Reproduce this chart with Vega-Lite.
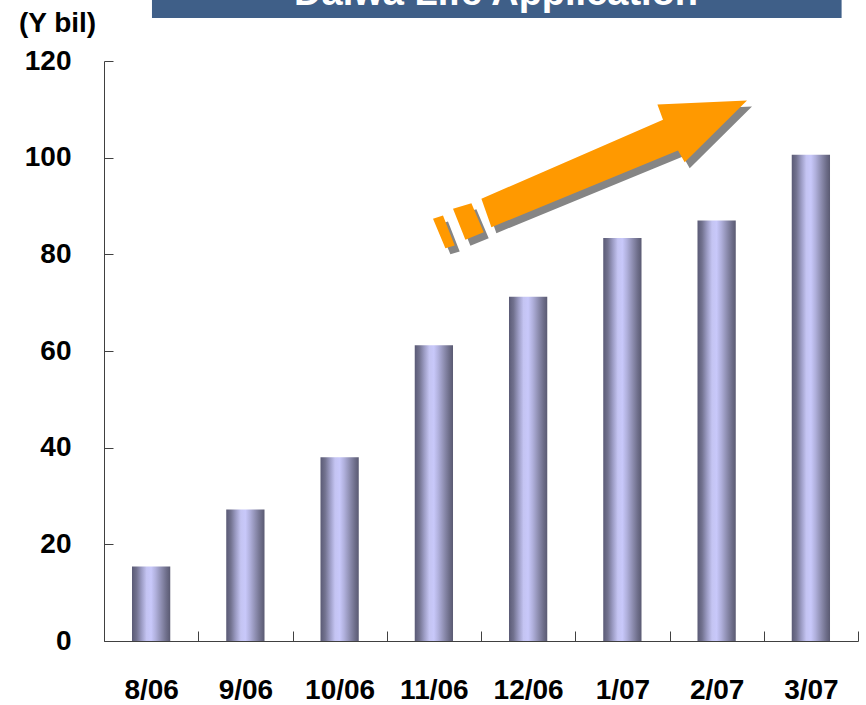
{
  "$schema": "https://vega.github.io/schema/vega-lite/v6.json",
  "autosize": {"type": "none"},
  "padding": {"left": 104, "top": 61, "right": 8, "bottom": 64},
  "width": 754,
  "height": 580,
  "background": "white",
  "config": {
    "view": {"stroke": null},
    "font": "Liberation Sans"
  },
  "datasets": {
    "bars": [
      {"month": "8/06", "value": 15.4},
      {"month": "9/06", "value": 27.2},
      {"month": "10/06", "value": 38.0},
      {"month": "11/06", "value": 61.2},
      {"month": "12/06", "value": 71.2},
      {"month": "1/07", "value": 83.4},
      {"month": "2/07", "value": 87.0},
      {"month": "3/07", "value": 100.6}
    ]
  },
  "resolve": {"scale": {"x": "independent"}},
  "layer": [
    {
      "data": {"name": "bars"},
      "mark": {
        "type": "bar",
        "width": {"band": 0.406},
        "color": {
          "gradient": "linear",
          "x1": 0, "x2": 1, "y1": 0, "y2": 0,
          "stops": [
            {"offset": 0, "color": "#5a5a75"},
            {"offset": 0.12, "color": "#72728f"},
            {"offset": 0.25, "color": "#9c9cc4"},
            {"offset": 0.38, "color": "#c4c4f2"},
            {"offset": 0.5, "color": "#c8c8fa"},
            {"offset": 0.62, "color": "#b0b0dc"},
            {"offset": 0.78, "color": "#8a8aac"},
            {"offset": 0.9, "color": "#6e6e8a"},
            {"offset": 1, "color": "#5a5a72"}
          ]
        }
      },
      "encoding": {
        "x": {
          "field": "month", "type": "nominal", "sort": null,
          "scale": {"paddingInner": 0, "paddingOuter": 0},
          "axis": {
            "title": null,
            "labelAngle": 0,
            "labelFont": "Liberation Sans",
            "labelFontSize": 28,
            "labelFontWeight": "bold",
            "labelColor": "black",
            "labelPadding": 45,
            "tickBand": "extent",
            "tickSize": -10,
            "tickColor": "#404040",
            "domainColor": "#404040",
            "grid": false
          }
        },
        "y": {
          "field": "value", "type": "quantitative",
          "scale": {"domain": [0, 120], "nice": false, "zero": true},
          "axis": {
            "values": [0, 20, 40, 60, 80, 100, 120],
            "title": "(Y bil)",
            "titleAngle": 0,
            "titleX": -47,
            "titleY": -38,
            "titleAlign": "center",
            "titleBaseline": "middle",
            "titleFont": "Liberation Sans",
            "titleFontSize": 28,
            "titleFontWeight": "bold",
            "titleColor": "black",
            "labelFont": "Liberation Sans",
            "labelFontSize": 28,
            "labelFontWeight": "bold",
            "labelColor": "black",
            "labelPadding": 42,
            "tickSize": -9,
            "tickColor": "#404040",
            "domainColor": "#404040",
            "grid": false
          }
        }
      }
    },
    {
      "data": {"values": [{}]},
      "mark": {"type": "rect", "color": "#3f5f88"},
      "encoding": {
        "x": {"datum": 0.509, "type": "quantitative", "scale": {"domain": [0, 8], "nice": false}, "axis": null},
        "x2": {"datum": 7.826},
        "y": {"datum": 128.9, "type": "quantitative"},
        "y2": {"datum": 134}
      }
    },
    {
      "data": {"values": [{"label": "Daiwa Life Application"}]},
      "mark": {"type": "text", "color": "white", "font": "Liberation Sans", "fontSize": 38, "fontWeight": "bold", "align": "center", "baseline": "alphabetic"},
      "encoding": {
        "x": {"datum": 4.16, "type": "quantitative", "scale": {"domain": [0, 8], "nice": false}, "axis": null},
        "y": {"datum": 131.5, "type": "quantitative"},
        "text": {"field": "label"}
      }
    },
    {
      "data": {"values": [{}]},
      "mark": {
        "type": "point", "filled": true, "opacity": 1, "color": "#858585", "strokeWidth": 0,
        "size": 160000, "xOffset": 5, "yOffset": 6,
        "shape": "M-0.5635,0.109L0.3445,-0.286L0.3165,-0.3625L0.7645,-0.3825L0.453,-0.074L0.4195,-0.1325L-0.5135,0.251Z M-0.7055,0.159L-0.6135,0.131L-0.552,0.276L-0.6435,0.314Z M-0.8055,0.209L-0.7555,0.1925L-0.697,0.3425L-0.7435,0.356Z"
      },
      "encoding": {
        "x": {"datum": 5.2, "type": "quantitative", "scale": {"domain": [0, 8], "nice": false}, "axis": null},
        "y": {"datum": 96, "type": "quantitative"}
      }
    },
    {
      "data": {"values": [{}]},
      "mark": {
        "type": "point", "filled": true, "opacity": 1, "color": "#ff9900", "strokeWidth": 0,
        "size": 160000,
        "shape": "M-0.5635,0.109L0.3445,-0.286L0.3165,-0.3625L0.7645,-0.3825L0.453,-0.074L0.4195,-0.1325L-0.5135,0.251Z M-0.7055,0.159L-0.6135,0.131L-0.552,0.276L-0.6435,0.314Z M-0.8055,0.209L-0.7555,0.1925L-0.697,0.3425L-0.7435,0.356Z"
      },
      "encoding": {
        "x": {"datum": 5.2, "type": "quantitative", "scale": {"domain": [0, 8], "nice": false}, "axis": null},
        "y": {"datum": 96, "type": "quantitative"}
      }
    }
  ]
}
